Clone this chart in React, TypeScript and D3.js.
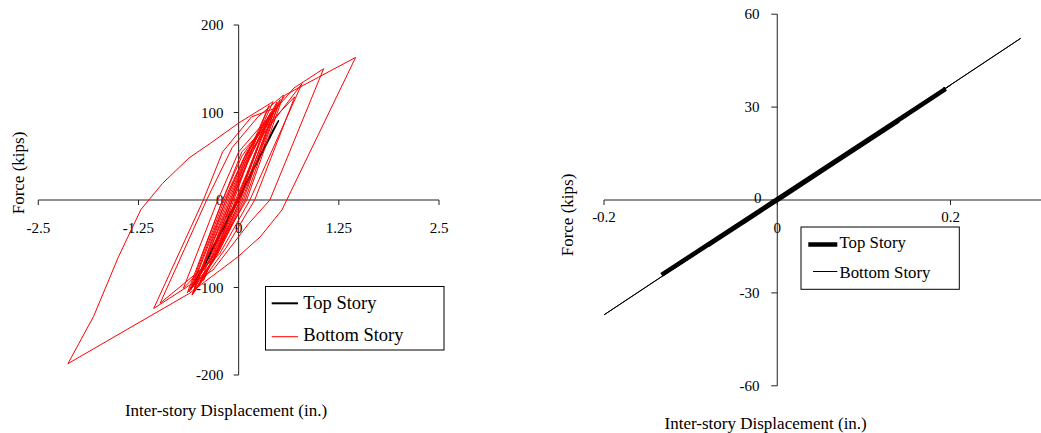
import React from 'react'
import * as d3 from 'd3'

// left chart: hysteresis, inches / kips
const leftXTicks = [-2.5, -1.25, 0, 1.25, 2.5]
const leftYTicks = [-200, -100, 0, 100, 200]

const leftTop: [number, number][] = [
  [0, 0], [0.24, 45], [0.2, 38], [-0.24, -42], [-0.2, -35], [0.36, 66], [0.32, 60],
  [-0.4, -70], [-0.36, -63], [0.5, 91], [0.44, 82], [-0.58, -100], [-0.52, -92],
  [0.4, 73], [0.36, 66], [-0.32, -56], [0, 0],
]

const leftBottom: [number, number][] = [
  [0, 0],
  [0.24, 60], [0.04, 10], [-0.32, -70], [-0.04, 0], [0.1, 30],
  [0.36, 90], [-0.02, 0], [-0.24, -50], [-0.44, -92], [-0.06, 0], [0.12, 45],
  [0.44, 102], [0.02, 0], [-0.28, -62], [-0.56, -105], [-0.12, 0], [0.08, 45],
  [0.38, 108], [-0.08, 0], [-0.36, -70], [-0.64, -106], [-0.2, 0], [0.04, 50],
  [0.5, 110], [0.04, 0], [-0.24, -55], [-0.5, -99], [-0.08, 0], [0.16, 55],
  [0.42, 100], [0, 5], [-0.3, -60], [-0.6, -103], [-0.18, 0], [0.1, 55],
  [0.52, 115], [0.08, 0], [-0.28, -65], [-0.58, -108], [-0.14, 0], [0.12, 55],
  [0.48, 112], [0.06, 0], [-0.26, -60], [-0.55, -100], [-0.1, 0], [0.14, 55],
  [0.79, 133], [0.14, 0], [-0.24, -62], [-0.98, -118], [-0.4, 0], [-0.08, 60], [0.24, 95],
  [0.56, 120], [0.1, 0], [-0.32, -65], [-0.69, -101], [-0.26, 0], [0, 55],
  [0.69, 128], [1.06, 150], [0.39, 0], [0.125, -27], [-0.32, -80], [-1.06, -124],
  [-0.44, 0], [-0.2, 55], [0.16, 95],
  [0.46, 105], [0.02, 0], [-0.32, -70], [-0.62, -105], [-0.2, 0], [0.04, 55],
  [0.7, 118], [0.2, 0], [-0.16, -55], [-0.58, -108.6], [-0.16, 0], [0.08, 50],
  [0.58, 120], [1.46, 163], [0.54, -11.4], [0.27, -42], [-0.01, -65], [-0.62, -107],
  [-2.13, -187], [-1.81, -133], [-1.5, -65], [-1.22, -11], [-0.95, 19], [-0.62, 48],
  [-0.35, 65], [0, 88], [0.43, 112.4],
  [0, 25], [-0.28, -45], [-0.56, -95], [-0.16, 0], [0.08, 50], [0.4, 100], [0, 20], [-0.16, -20], [0, 0],
]

// right chart: near-elastic response
const rightXTicks = [-0.2, 0, 0.2]
const rightYTicks = [-60, -30, 0, 30, 60]

const rightBottom: [number, number][] = [
  [0, 0], [0.06, 11.1], [-0.05, -9.3], [0.1, 18.6], [-0.08, -14.9], [0.15, 27.9],
  [-0.12, -22.3], [0.2, 37.1], [-0.2, -37.1], [0.281, 52.2], [0.1, 18.6], [0, 0],
]

const rightTop: [number, number][] = [
  [0, 0], [0.05, 9.2], [-0.04, -7.3], [0.09, 16.5], [-0.08, -14.6], [0.14, 25.6],
  [-0.1335, -24.2], [0.1944, 35.9], [0.06, 11], [0, 0],
]

const seriesNames = ['Top Story', 'Bottom Story']

const FONT = '"Liberation Serif", "Times New Roman", serif'

const App: React.FC = () => {
  const xL = d3.scaleLinear().domain([-2.5, 2.5]).range([38.3, 439])
  const yL = d3.scaleLinear().domain([-200, 200]).range([375, 25])
  const xR = d3.scaleLinear().domain([-0.2, 0.2]).range([604, 950.5])
  const yR = d3.scaleLinear().domain([-60, 60]).range([385.8, 14.2])

  const lineL = d3.line<[number, number]>().x(d => xL(d[0])).y(d => yL(d[1]))
  const lineR = d3.line<[number, number]>().x(d => xR(d[0])).y(d => yR(d[1]))

  const ax = '#222'

  return (
    <svg width={1041} height={433} style={{ position: 'absolute', left: 0, top: 0, fontFamily: FONT }}>
      <rect width={1041} height={433} fill="#fff" />

      {/* ---- left chart ---- */}
      <g>
        <line x1={xL(-2.5)} x2={xL(2.5)} y1={yL(0)} y2={yL(0)} stroke={ax} />
        <line x1={xL(0)} x2={xL(0)} y1={yL(200)} y2={yL(-200)} stroke={ax} />
        {leftXTicks.map(v => (
          <g key={'lx' + v}>
            <line x1={xL(v)} x2={xL(v)} y1={yL(0)} y2={yL(0) + 5} stroke={ax} />
            <text x={xL(v)} y={228} dy="0.35em" textAnchor="middle" fontSize={15}>{String(v)}</text>
          </g>
        ))}
        {leftYTicks.map(v => (
          <g key={'ly' + v}>
            <line x1={xL(0) - 5} x2={xL(0)} y1={yL(v)} y2={yL(v)} stroke={ax} />
            <text x={223.5} y={yL(v)} dy="0.35em" textAnchor="end" fontSize={15}>{String(v)}</text>
          </g>
        ))}
        <path d={lineL(leftTop) || ''} fill="none" stroke="#000" strokeWidth={1.3} />
        <path d={lineL(leftBottom) || ''} fill="none" stroke="#ff0000" strokeWidth={1} strokeLinejoin="round" />

        <text transform="translate(18.3,173) rotate(-90)" dy="0.35em" textAnchor="middle" fontSize={17}>Force (kips)</text>
        <text x={226} y={410} dy="0.35em" textAnchor="middle" fontSize={17}>Inter-story Displacement (in.)</text>

        <rect x={265.5} y={286.5} width={178.5} height={63.5} fill="#fff" stroke="#000" />
        <line x1={271.7} x2={298} y1={303.3} y2={303.3} stroke="#000" strokeWidth={2} />
        <text x={303.3} y={303} dy="0.35em" fontSize={18.5}>{seriesNames[0]}</text>
        <line x1={271.7} x2={298} y1={336.7} y2={336.7} stroke="#ff0000" strokeWidth={1} />
        <text x={303.3} y={335} dy="0.35em" fontSize={18.5}>{seriesNames[1]}</text>
      </g>

      {/* ---- right chart ---- */}
      <g>
        <line x1={xR(-0.2)} x2={1041} y1={yR(0)} y2={yR(0)} stroke={ax} />
        <line x1={xR(0)} x2={xR(0)} y1={yR(60)} y2={yR(-60)} stroke={ax} />
        {rightXTicks.map(v => (
          <g key={'rx' + v}>
            <line x1={xR(v)} x2={xR(v)} y1={yR(0)} y2={yR(0) + 5} stroke={ax} />
            <text x={xR(v)} y={v === 0 ? 228 : 217} dy="0.35em" textAnchor="middle" fontSize={15}>{String(v)}</text>
          </g>
        ))}
        {rightYTicks.map(v => (
          <g key={'ry' + v}>
            <line x1={xR(0) - 6} x2={xR(0)} y1={yR(v)} y2={yR(v)} stroke={ax} />
            <text x={v === 0 ? 761.5 : 759.5} y={v === 0 ? 198 : yR(v)} dy="0.35em" textAnchor="end" fontSize={15}>{String(v)}</text>
          </g>
        ))}
        <path d={lineR(rightBottom) || ''} fill="none" stroke="#000" strokeWidth={1} />
        <path d={lineR(rightTop) || ''} fill="none" stroke="#000" strokeWidth={4.5} />

        <text transform="translate(567.3,215) rotate(-90)" dy="0.35em" textAnchor="middle" fontSize={17}>Force (kips)</text>
        <text x={765.7} y={423} dy="0.35em" textAnchor="middle" fontSize={17}>Inter-story Displacement (in.)</text>

        <rect x={801} y={227} width={158.3} height={62.3} fill="#fff" stroke="#000" />
        <line x1={808.3} x2={837.3} y1={244.5} y2={244.5} stroke="#000" strokeWidth={4.5} />
        <text x={839.5} y={242.3} dy="0.35em" fontSize={16.8}>{seriesNames[0]}</text>
        <line x1={813} x2={837.3} y1={271.5} y2={271.5} stroke="#000" strokeWidth={1} />
        <text x={839.5} y={272} dy="0.35em" fontSize={16.8}>{seriesNames[1]}</text>
      </g>
    </svg>
  )
}

export default App
